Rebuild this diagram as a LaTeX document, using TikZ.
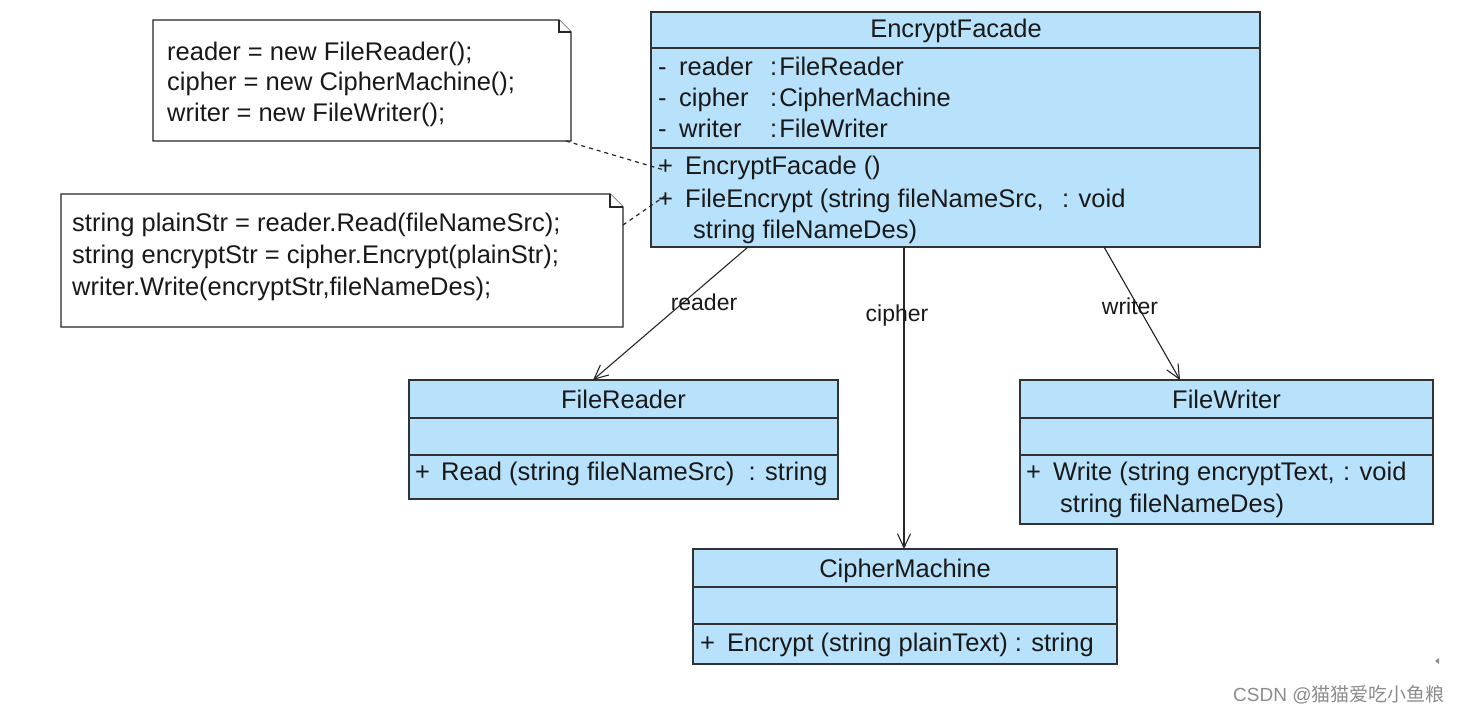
\documentclass[tikz,border=0pt]{standalone}
\usepackage{fontspec}
\setmainfont{Liberation Sans}
\newfontfamily\cjkfont{Noto Sans CJK SC}
\usetikzlibrary{arrows.meta}
\definecolor{umlblue}{RGB}{184,226,251}
\definecolor{umlline}{RGB}{50,50,50}
\newcommand\umlf{\fontsize{25.5}{31}\selectfont}
\newcommand\lblf{\fontsize{23}{28}\selectfont}
\newcommand\tcol{:\hspace{2pt}}
\begin{document}
\begin{tikzpicture}[x=1pt,y=-1pt,
  cls/.style={draw=umlline,fill=umlblue,line width=1.4pt,anchor=north west,inner sep=0,outer sep=0},
  notebox/.style={anchor=north west,inner sep=0,outer sep=0},
  noteline/.style={draw=black!85,line width=1.3pt,fill=white},
  div/.style={draw=umlline,line width=1.4pt},
  t/.style={anchor=base west,inner sep=0,font=\umlf,text=black!90},
  tc/.style={anchor=base,inner sep=0,font=\umlf,text=black!90},
  lbl/.style={anchor=base,inner sep=0,font=\lblf,text=black!90},
  assoc/.style={draw=black!85,line width=1.1pt,-{Straight Barb[length=14pt,width=13pt,line width=1.1pt]}},
  notelink/.style={draw=black!85,line width=1.2pt,dash pattern=on 4pt off 4pt}]
\fill[white] (0,0) rectangle (1460,714);
\useasboundingbox (0,0) rectangle (1460,714);

% ---------- EncryptFacade ----------
\node[cls,minimum width=609,minimum height=235] (ef) at (651,12) {};
\draw[div] (651,48) -- (1260,48);
\draw[div] (651,148) -- (1260,148);
\node[tc] (eft) at (956,38) {EncryptFacade};
\node[t] at (658,76) {-};  \node[t] at (679,76) {reader};  \node[t] at (770,76) {\tcol FileReader};
\node[t] at (658,107) {-}; \node[t] at (679,107) {cipher};  \node[t] at (770,107) {\tcol CipherMachine};
\node[t] at (658,138) {-}; \node[t] at (679,138) {writer};  \node[t] at (770,138) {\tcol FileWriter};
\node[t] at (658,175) {+}; \node[t] at (685,175) {EncryptFacade ()};
\node[t] at (658,208) {+}; \node[t] at (685,208) {FileEncrypt (string fileNameSrc,};
\node[t] at (1062,208) {: void};
\node[t] at (693,239) {string fileNameDes)};

% ---------- FileReader ----------
\node[cls,minimum width=429,minimum height=119] (fr) at (409,380) {};
\draw[div] (409,418) -- (838,418);
\draw[div] (409,455) -- (838,455);
\node[tc] at (623.5,408) {FileReader};
\node[t] at (415,480) {+}; \node[t] at (441,480) {Read (string fileNameSrc) \ : string};

% ---------- FileWriter ----------
\node[cls,minimum width=413,minimum height=144] (fw) at (1020,380) {};
\draw[div] (1020,418) -- (1433,418);
\draw[div] (1020,455) -- (1433,455);
\node[tc] at (1226.5,408) {FileWriter};
\node[t] at (1026,480) {+}; \node[t] at (1053,480) {Write (string encryptText,};
\node[t] at (1343,480) {: void};
\node[t] at (1060,512) {string fileNameDes)};

% ---------- CipherMachine ----------
\node[cls,minimum width=424,minimum height=115] (cm) at (693,549) {};
\draw[div] (693,587) -- (1117,587);
\draw[div] (693,624) -- (1117,624);
\node[tc] at (905,577) {CipherMachine};
\node[t] at (700,651) {+}; \node[t] at (727,651) {Encrypt (string plainText) : string};

% ---------- Notes ----------
\node[notebox,minimum width=418,minimum height=121] (n1) at (153,20) {};
\draw[noteline] (n1.north west) -- ([xshift=-12pt]n1.north east) -- ([yshift=-12pt]n1.north east) -- (n1.south east) -- (n1.south west) -- cycle;
\draw[noteline] ([xshift=-12pt]n1.north east) |- ([yshift=-12pt]n1.north east);
\node[t] at (167,61) {reader = new FileReader();};
\node[t] at (167,91) {cipher = new CipherMachine();};
\node[t] at (167,122) {writer = new FileWriter();};

\node[notebox,minimum width=562,minimum height=133] (n2) at (61,194) {};
\draw[noteline] (n2.north west) -- ([xshift=-13pt]n2.north east) -- ([yshift=-13pt]n2.north east) -- (n2.south east) -- (n2.south west) -- cycle;
\draw[noteline] ([xshift=-13pt]n2.north east) |- ([yshift=-13pt]n2.north east);
\node[t] at (72,232) {string plainStr = reader.Read(fileNameSrc);};
\node[t] at (72,264) {string encryptStr = cipher.Encrypt(plainStr);};
\node[t] at (72,296) {writer.Write(encryptStr,fileNameDes);};

% ---------- note links ----------
\coordinate (m1) at (664,170);
\coordinate (m2) at (665,196);
\draw[notelink] ([xshift=-5pt]n1.south east) -- (m1);
\draw[notelink] ([yshift=-31pt]n2.north east) -- (m2);

% ---------- associations ----------
\draw[assoc] (748,0 |- ef.south) -- (593,0 |- fr.north);
\draw[assoc] (904,0 |- ef.south) -- (904,0 |- cm.north);
\draw[assoc] (1104,0 |- ef.south) -- (1180,0 |- fw.north);
\node[lbl] (lr) at (704,310) {reader};
\node[lbl] (lc) at (897,322) {cipher};
\node[lbl] (lw) at (1130,315) {writer};

% ---------- watermark ----------
\fill[black!45] (1435,661) -- (1439,658) -- (1439,664) -- cycle;
\node[anchor=base west,inner sep=0,font=\fontsize{19}{22}\selectfont,text=black!45] (wm) at (1233,701) {CSDN @{\cjkfont 猫猫爱吃小鱼粮}};
\end{tikzpicture}
\end{document}
